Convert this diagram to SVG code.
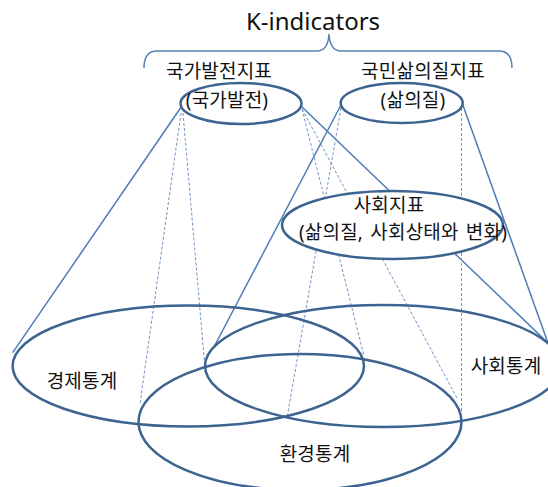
<svg xmlns="http://www.w3.org/2000/svg" width="548" height="487" viewBox="0 0 548 487">
<style>
.bg{fill:#ffffff}
.ell{fill:none;stroke:#3d6391;stroke-width:2.5}
.ellw{fill:#ffffff;stroke:#3d6391;stroke-width:2.5}
.solid{stroke:#4f7cb8;stroke-width:1.5;fill:none}
.dash{stroke:#7393c2;stroke-width:1;stroke-dasharray:3 2;fill:none}
.brace{fill:none;stroke:#5a82b8;stroke-width:1.5}
.t{font-family:"Noto Sans","Noto Sans CJK KR",sans-serif;fill:#111111;text-anchor:middle}
.m{font-size:19px;letter-spacing:0.2px}
</style>
<rect class="bg" x="0" y="0" width="548" height="487"/>
<g id="title">
<text class="t" x="313" y="30" font-size="24">K-indicators</text>
<path class="brace" d="M144,68 Q144,51 157,51 L317,51 Q328,51 329,34 Q330,51 341,51 L499,51 Q512,51 512,68"/>
<text class="t m" x="219" y="78">국가발전지표</text>
<text class="t m" x="423" y="78">국민삶의질지표</text>
</g>
<g id="connectors">
<line class="solid" x1="180.5" y1="108" x2="12.7" y2="352.7"/>
<line class="solid" x1="301" y1="106" x2="548" y2="343"/>
<line class="solid" x1="341.5" y1="104" x2="214" y2="347"/>
<line class="solid" x1="462.5" y1="104" x2="548" y2="343"/>
<line class="dash" x1="181" y1="113" x2="140" y2="404"/>
<line class="dash" x1="183" y1="113" x2="205" y2="368"/>
<line class="dash" x1="302" y1="109" x2="364" y2="356"/>
<line class="dash" x1="302" y1="109" x2="457" y2="398"/>
<line class="dash" x1="341" y1="108" x2="287" y2="418"/>
<line class="dash" x1="461.5" y1="108" x2="461.5" y2="412"/>
</g>
<g id="economy">
<ellipse class="ell" cx="188.3" cy="366" rx="175.7" ry="60.5"/>
<text class="t m" x="82" y="388">경제통계</text>
</g>
<g id="social">
<ellipse class="ell" cx="383" cy="366" rx="178" ry="61"/>
<text class="t m" x="506" y="373">사회통계</text>
</g>
<g id="environment">
<ellipse class="ell" cx="300" cy="422" rx="161.5" ry="68"/>
<text class="t m" x="315" y="461">환경통계</text>
</g>
<g id="national">
<ellipse class="ellw" cx="241" cy="103.5" rx="60.5" ry="20.5"/>
<text class="t m" x="227" y="107">(국가발전)</text>
</g>
<g id="qol">
<ellipse class="ellw" cx="401.7" cy="103" rx="61" ry="20"/>
<text class="t m" x="413" y="107">(삶의질)</text>
</g>
<g id="socialind">
<ellipse class="ellw" cx="392.5" cy="225" rx="110.5" ry="34"/>
<text class="t m" x="389" y="212">사회지표</text>
<text class="t m" x="403" y="239" word-spacing="2">(삶의질, 사회상태와 변화)</text>
</g>
</svg>
